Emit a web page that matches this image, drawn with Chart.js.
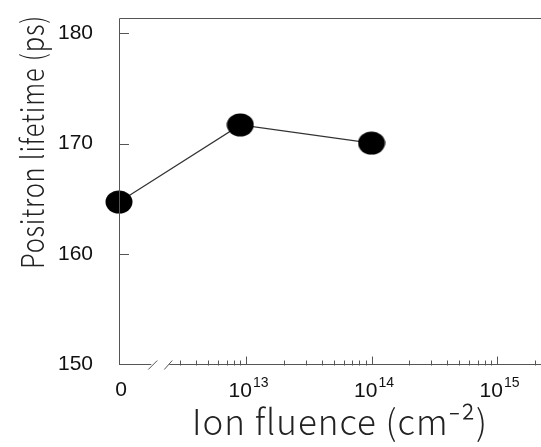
<!DOCTYPE html>
<html>
<head>
<meta charset="utf-8">
<script src="https://cdn.jsdelivr.net/npm/chart.js@4.4.1/dist/chart.umd.min.js"></script>
<style>
  html, body { margin: 0; padding: 0; background: #fff; }
  #wrap { width: 541px; height: 447px; }
</style>
</head>
<body>
<div id="wrap"><canvas id="lifetimeChart" width="541" height="447"></canvas></div>
<script>
// values
const fluence = [0, 9e12, 1e14];           // cm^-2 (0 = unirradiated)
const lifetime = [164.7, 171.7, 170.05];   // ps
const yTicks = [150, 160, 170, 180];
const xMajorTicks = [1e13, 1e14, 1e15];
const xMajorExp = ['13', '14', '15'];
const xMinorTicks = [3e12, 4e12, 5e12, 6e12, 7e12, 8e12, 9e12,
    2e13, 3e13, 4e13, 5e13, 6e13, 7e13, 8e13, 9e13,
    2e14, 3e14, 4e14, 5e14, 6e14, 7e14, 8e14, 9e14, 2e15];
const xMin = 9.73e11;
const xMax = 2.24e15;
const yMin = 150;
const yMax = 181.4;

const yTitle = 'Positron lifetime (ps)';
const xTitle = 'Ion fluence (cm⁻²)';
const titleFamily = '"Noto Sans CJK JP", "Noto Sans", sans-serif';
const tickFont = '"Liberation Sans", Arial, sans-serif';

// slightly wide filled ellipse marker
function makeMarker() {
    const c = document.createElement('canvas');
    c.width = 28;
    c.height = 24;
    const g = c.getContext('2d');
    g.fillStyle = '#000';
    g.beginPath();
    g.ellipse(14, 12, 13.5, 11.5, 0, 0, Math.PI * 2);
    g.fill();
    return c;
}

function noPadding(scale) {
    scale.paddingLeft = 0;
    scale.paddingRight = 0;
    scale.paddingTop = 0;
    scale.paddingBottom = 0;
}

// text fitted along its run to a given length
function fitText(ctx, text, size, length) {
    ctx.font = '300 ' + size + 'px ' + titleFamily;
    ctx.letterSpacing = '1px';
    const w = ctx.measureText(text).width;
    ctx.scale(length / w, 1);
    ctx.fillText(text, 0, 0);
}

const axisDeco = {
    id: 'axisDeco',
    afterDraw(chart) {
        const ctx = chart.ctx;
        const area = chart.chartArea;
        const xs = chart.scales.x;
        const ys = chart.scales.y;
        ctx.save();
        ctx.strokeStyle = '#555';
        ctx.lineWidth = 1;

        // left and top frame
        ctx.beginPath();
        ctx.moveTo(area.left + 0.5, area.bottom);
        ctx.lineTo(area.left + 0.5, area.top + 0.5);
        ctx.lineTo(area.right, area.top + 0.5);
        ctx.stroke();

        // bottom axis with break marks
        const by = Math.round(area.bottom) + 0.5;
        const bx = xs.getPixelForValue(2e12);
        ctx.beginPath();
        ctx.moveTo(area.left, by);
        ctx.lineTo(bx - 7, by);
        ctx.moveTo(bx - 10, by + 5);
        ctx.lineTo(bx - 1, by - 4);
        ctx.moveTo(bx + 6, by + 5);
        ctx.lineTo(bx + 14, by - 4);
        ctx.moveTo(bx + 11, by);
        ctx.lineTo(area.right, by);
        ctx.stroke();

        // y ticks pointing inward
        ctx.beginPath();
        yTicks.forEach(v => {
            const py = Math.round(ys.getPixelForValue(v)) + 0.5;
            ctx.moveTo(area.left, py);
            ctx.lineTo(area.left + 10, py);
        });
        // x ticks pointing inward
        xMajorTicks.forEach(v => {
            const px = Math.round(xs.getPixelForValue(v)) + 0.5;
            ctx.moveTo(px, by);
            ctx.lineTo(px, by - 8);
        });
        xMinorTicks.forEach(v => {
            const px = Math.round(xs.getPixelForValue(v)) + 0.5;
            ctx.moveTo(px, by + 1);
            ctx.lineTo(px, by - 4);
        });
        ctx.stroke();

        // x tick labels
        ctx.fillStyle = '#111';
        ctx.textBaseline = 'alphabetic';
        ctx.font = '21px ' + tickFont;
        ctx.textAlign = 'center';
        ctx.fillText('0', xs.getPixelForValue(xMin) + 2, by + 31);
        xMajorTicks.forEach((v, i) => {
            const px = xs.getPixelForValue(v);
            ctx.font = '21px ' + tickFont;
            const w10 = ctx.measureText('10').width;
            ctx.font = '14px ' + tickFont;
            const wExp = ctx.measureText(xMajorExp[i]).width;
            const start = px - (w10 + wExp) / 2 + 2;
            ctx.textAlign = 'left';
            ctx.font = '21px ' + tickFont;
            ctx.fillText('10', start, by + 32);
            ctx.font = '14px ' + tickFont;
            ctx.fillText(xMajorExp[i], start + w10 + 1, by + 22);
        });

        // axis titles
        ctx.fillStyle = '#222';
        ctx.textAlign = 'center';
        ctx.save();
        ctx.translate(44, 142);
        ctx.rotate(-Math.PI / 2);
        fitText(ctx, yTitle, 31, 254);
        ctx.restore();

        ctx.save();
        ctx.translate(340, 435);
        fitText(ctx, xTitle, 35, 296);
        ctx.restore();
        ctx.restore();
    }
};

const ctx = document.getElementById('lifetimeChart').getContext('2d');
const chart = new Chart(ctx, {
    type: 'scatter',
    data: {
        datasets: [{
            label: 'Positron lifetime',
            data: fluence.map((f, i) => ({ x: f === 0 ? xMin : f, y: lifetime[i] })),
            showLine: true,
            borderColor: '#333',
            borderWidth: 1.2,
            pointStyle: makeMarker(),
            pointRadius: 12,
            pointHoverRadius: 12,
            clip: false
        }]
    },
    options: {
        responsive: false,
        animation: false,
        events: [],
        layout: {
            autoPadding: false,
            padding: { top: 18, right: 0, bottom: 0, left: 0 }
        },
        plugins: {
            legend: { display: false },
            tooltip: { enabled: false }
        },
        scales: {
            x: {
                type: 'logarithmic',
                min: xMin,
                max: xMax,
                grid: { display: false },
                border: { display: false },
                ticks: { display: false },
                afterFit: scale => { scale.height = 83; noPadding(scale); }
            },
            y: {
                min: yMin,
                max: yMax,
                grid: { display: false },
                border: { display: false },
                afterBuildTicks: scale => {
                    scale.ticks = yTicks.map(v => ({ value: v }));
                },
                ticks: {
                    color: '#111',
                    padding: 18,
                    font: { family: tickFont, size: 21 }
                },
                afterFit: scale => { scale.width = 119; noPadding(scale); }
            }
        }
    },
    plugins: [axisDeco]
});
</script>
</body>
</html>
